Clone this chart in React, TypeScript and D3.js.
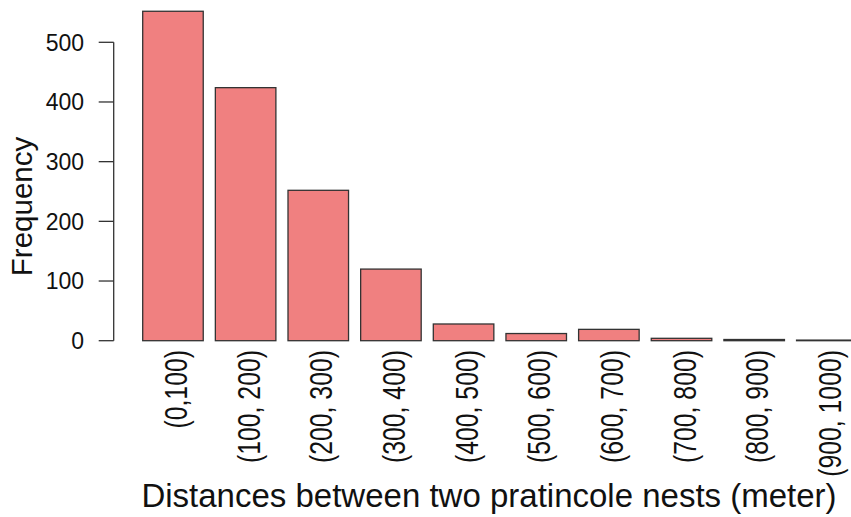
import React from "react";
import * as d3 from "d3";

const categories = ["(0,100)", "(100, 200)", "(200, 300)", "(300, 400)", "(400, 500)", "(500, 600)", "(600, 700)", "(700, 800)", "(800, 900)", "(900, 1000)"];
const frequencies = [552, 424, 252, 120, 28, 12, 19, 4, 2, 1];
const yTicks = [0, 100, 200, 300, 400, 500];

const W = 851;
const H = 517;

export default function App() {
  const x = d3.scaleBand<string>().domain(categories).range([142.7, 857.1]).paddingInner(0.1667).paddingOuter(0);
  const y = d3.scaleLinear().domain([0, 500]).range([340.7, 42.3]);
  const axisX = 113.7;
  return (
    <svg width={W} height={H} style={{ position: "absolute", left: 0, top: 0, background: "#fff" }} fontFamily="'Liberation Sans', Arial, sans-serif">
      {categories.map((c, i) => (
        <rect key={c} x={x(c)} y={y(frequencies[i])} width={x.bandwidth()} height={y(0) - y(frequencies[i])} fill="#F08080" stroke="#333" strokeWidth={1.3} />
      ))}
      <line x1={axisX} x2={axisX} y1={y(500)} y2={y(0)} stroke="#333" strokeWidth={1.3} />
      {yTicks.map(t => (
        <g key={t}>
          <line x1={axisX - 15} x2={axisX} y1={y(t)} y2={y(t)} stroke="#333" strokeWidth={1.3} />
          <text x={84} y={y(t)} dy="0.36em" textAnchor="end" fontSize={23} fill="#111">{t}</text>
        </g>
      ))}
      <text transform={`translate(32,206.5) rotate(-90)`} textAnchor="middle" fontSize={29.5} fill="#111">Frequency</text>
      {categories.map(c => {
        const cx = (x(c) as number) + x.bandwidth() / 2;
        return (
          <text key={c} transform={`translate(${cx + 14},350) rotate(-90) scale(0.8,1)`} textAnchor="end" fontSize={31} fill="#111">{c}</text>
        );
      })}
      <text x={489} y={507} textAnchor="middle" fontSize={33} fill="#111">Distances between two pratincole nests (meter)</text>
    </svg>
  );
}
